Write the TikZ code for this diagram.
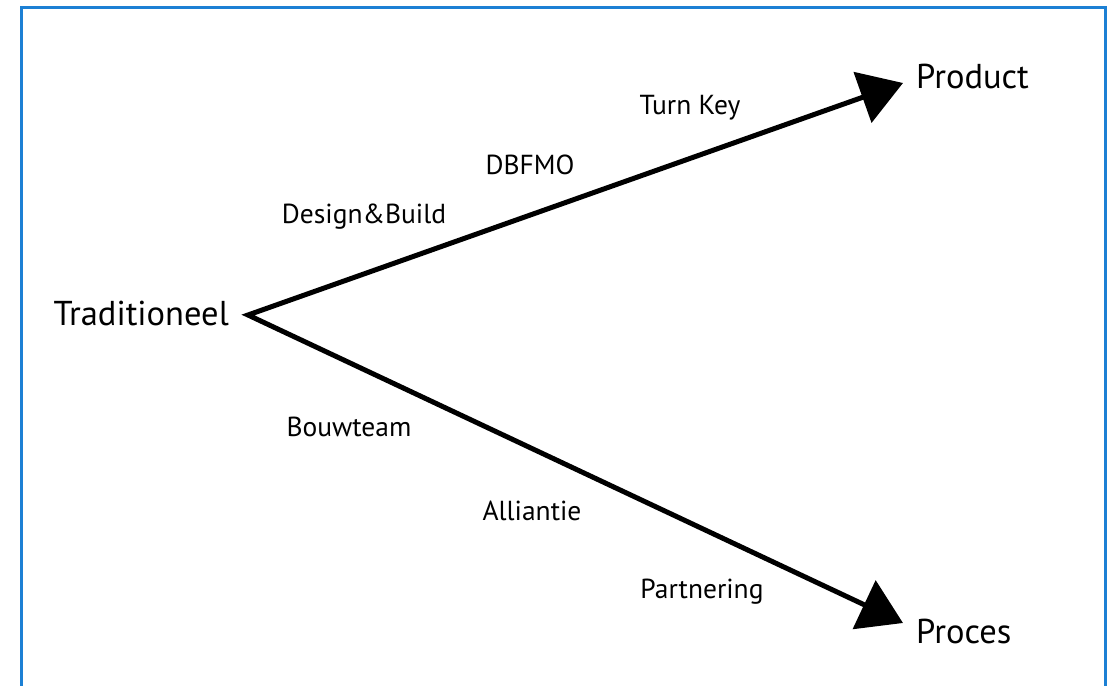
\documentclass[tikz,border=0pt]{standalone}
\usepackage{fontspec}
\setmainfont{PT Sans}
\usetikzlibrary{arrows.meta}
\usetikzlibrary{positioning}
\definecolor{frameblue}{RGB}{28,128,212}
\tikzset{
  endpoint/.style = {inner sep=0pt, anchor=west, font=\fontsize{34.5}{38}\selectfont},
  kind/.style     = {inner sep=0pt, font=\fontsize{27.5}{31}\selectfont},
  route/.style    = {line width=5pt, {Triangle[length=43pt,width=53pt]}-{Triangle[length=43pt,width=53pt]}},
}

\begin{document}
\begin{tikzpicture}[x=1pt, y=-1pt]
        \useasboundingbox (0,0) rectangle (1113,685);
        \draw[frameblue, line width=3pt] (21,700) -- (21,8) -- (1105,8) -- (1105,700);

        \node[endpoint, anchor=east] at (229,313) (Trad) {Traditioneel};
        \node[endpoint] at (916,76) (Prod) {Product};
        \node[endpoint] at (916,631) (Proc) {Proces};

        \coordinate (Apex) at (248,315);
        \coordinate (ProdTip) at (903,83);
        \coordinate (ProcTip) at (903,623);

        \draw[route, line join=miter] (ProdTip) -- (Apex) -- (ProcTip);
        % bovenste tak: richting product
        \node[kind] at (690,108) (TK) {Turn Key};
        \node[kind] at (530,165) (DBFMO) {DBFMO};
        \node[kind] at (364,217) (DB) {Design\&Build};

        % onderste tak: richting proces
        \node[kind] at (349,427) (BT) {Bouwteam};
        \node[kind] at (532,511) (AL) {Alliantie};
        \node[kind] at (702,592) (PA) {Partnering};
\end{tikzpicture}
\end{document}
